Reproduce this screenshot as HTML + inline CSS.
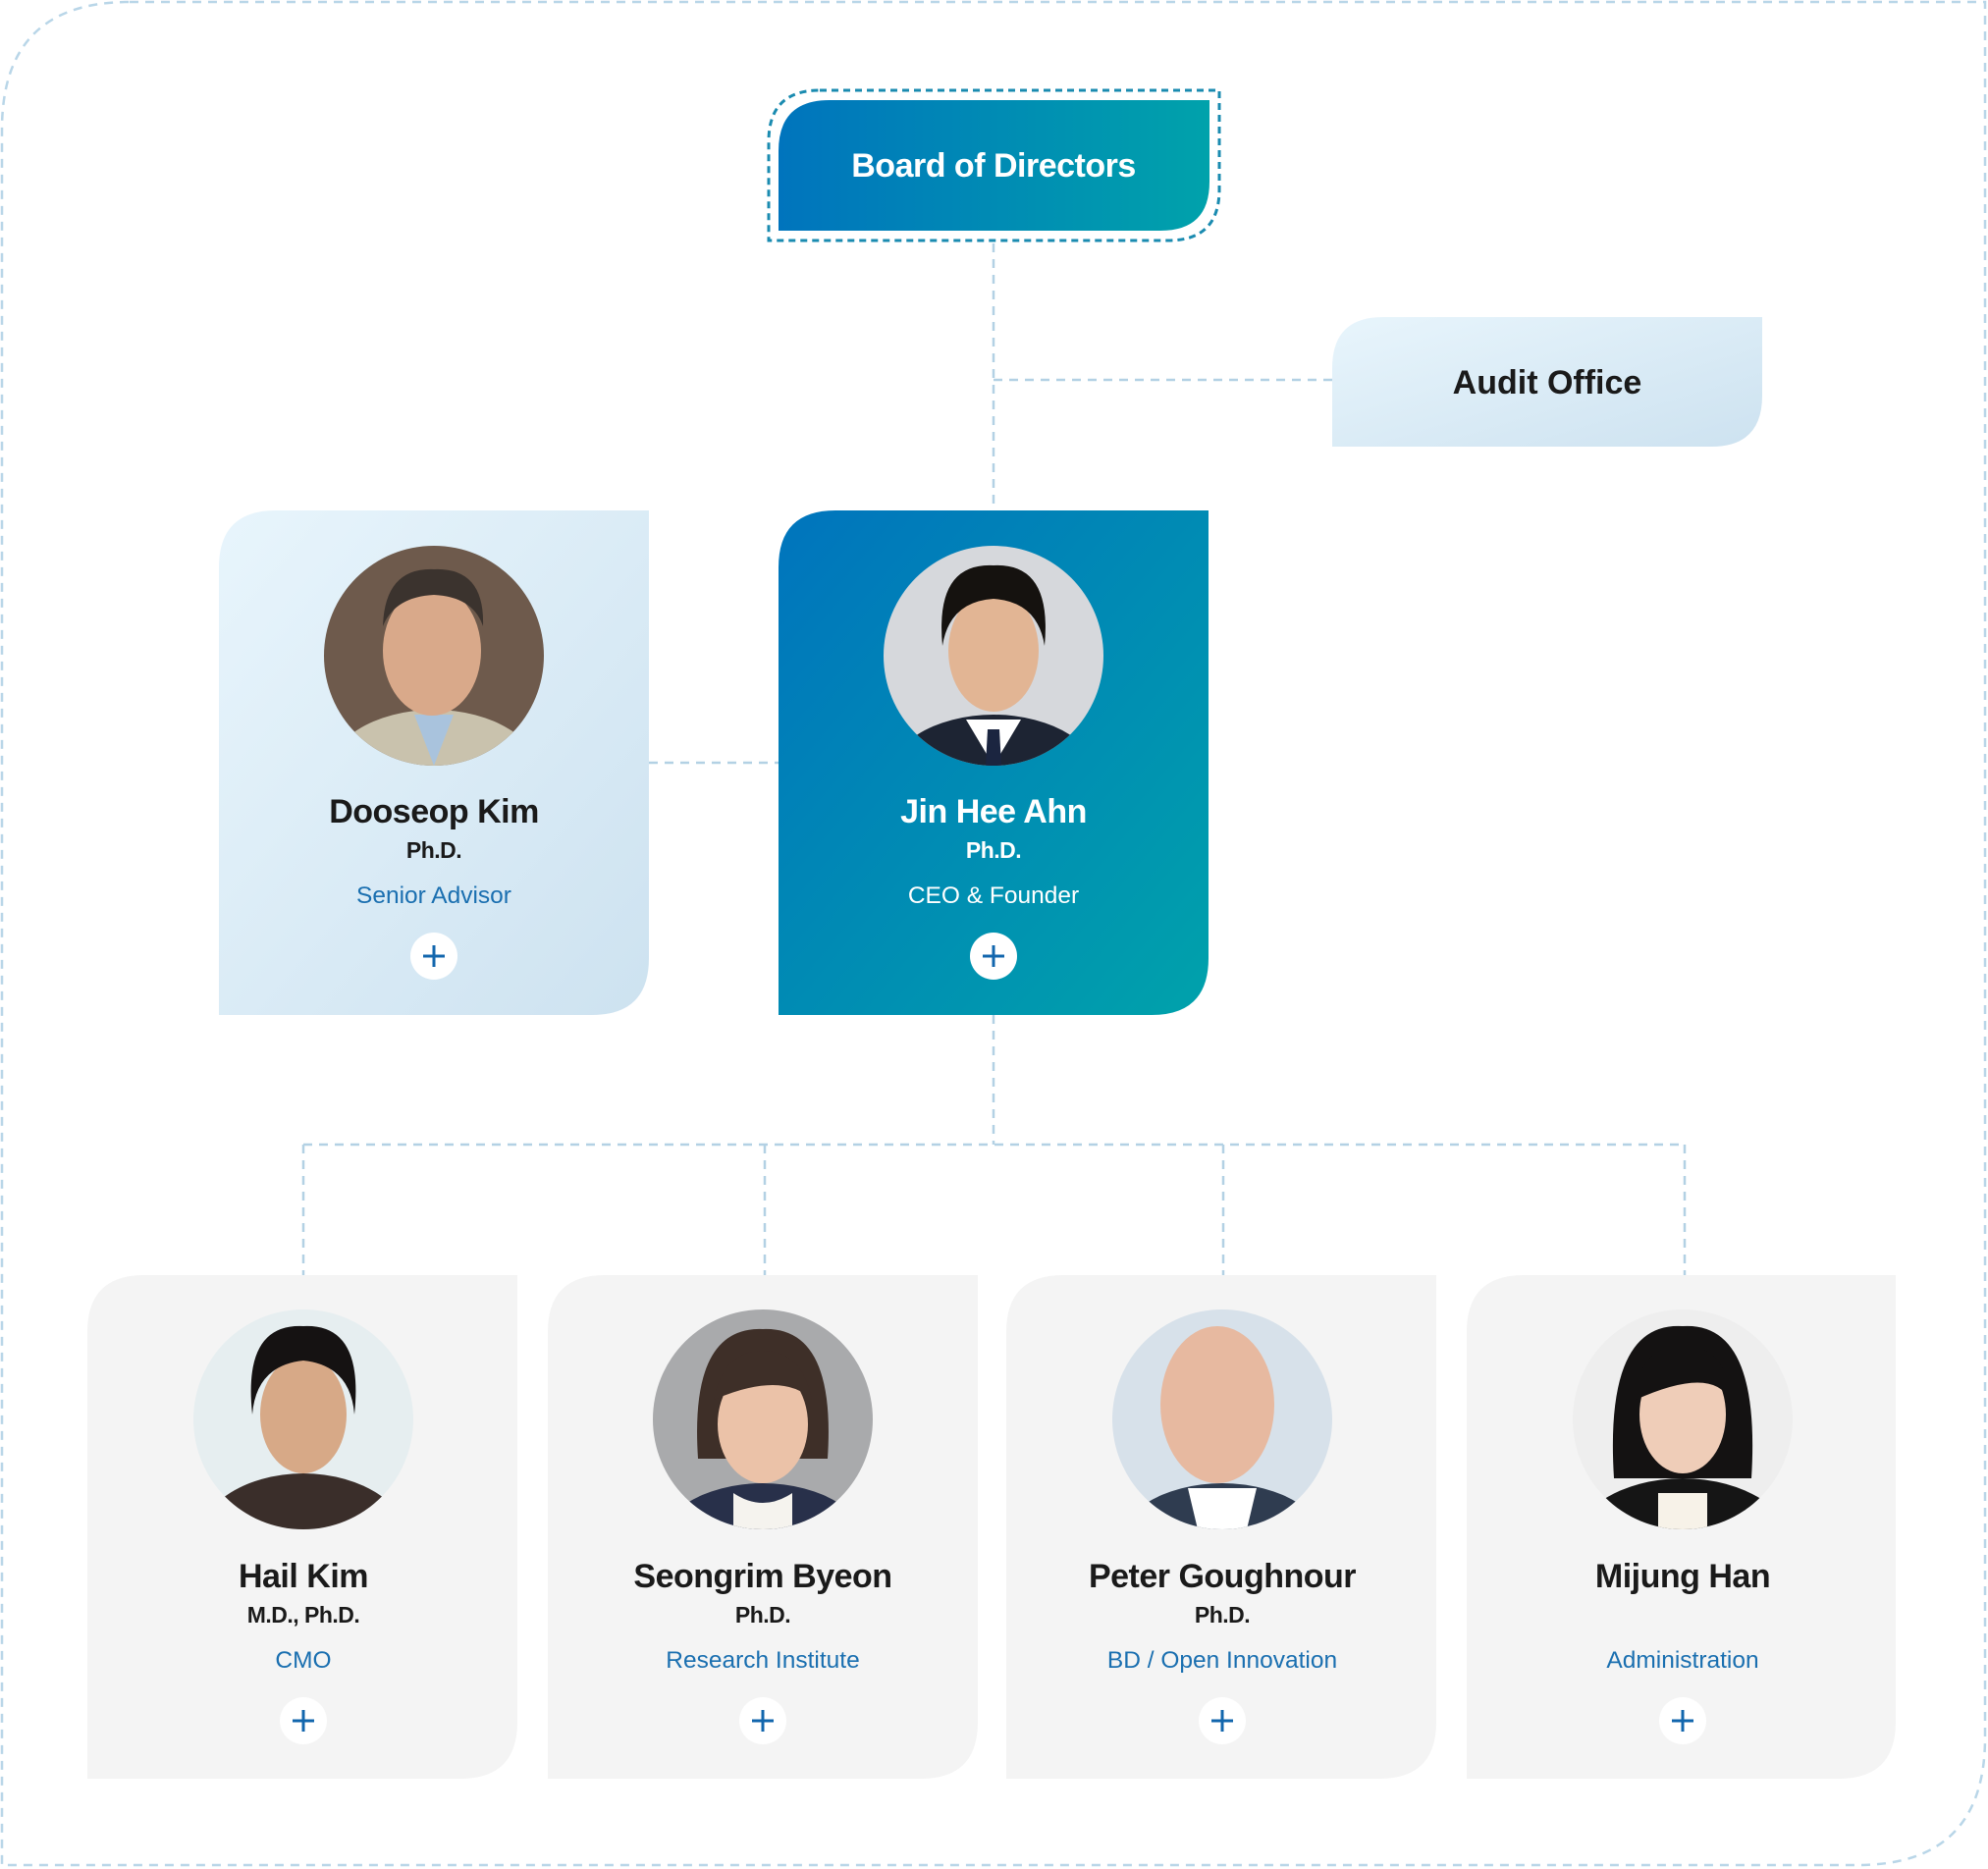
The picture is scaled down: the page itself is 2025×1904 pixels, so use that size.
<!DOCTYPE html>
<html><head><meta charset="utf-8">
<style>
html,body{margin:0;padding:0;background:#fff;}
svg{display:block;}
text{font-family:"Liberation Sans",Arial,sans-serif;}
</style></head>
<body>
<svg width="2025" height="1904" viewBox="0 0 2025 1904" xmlns="http://www.w3.org/2000/svg">
<defs>
<linearGradient id="gBlue" x1="0" y1="0" x2="1" y2="1"><stop offset="0" stop-color="#0074bd"/><stop offset="1" stop-color="#00a2ab"/></linearGradient>
<linearGradient id="gBoard" x1="0" y1="0" x2="1" y2="0"><stop offset="0" stop-color="#0074bd"/><stop offset="1" stop-color="#00a2ab"/></linearGradient>
<linearGradient id="gLight" x1="0" y1="0" x2="1" y2="1"><stop offset="0" stop-color="#e8f5fc"/><stop offset="1" stop-color="#cde2f0"/></linearGradient>
<clipPath id="c"><circle cx="0" cy="0" r="112"/></clipPath>
</defs>

<path d="M132 2 H2022 V1770 Q2022 1900 1892 1900 H2 V132 Q2 2 132 2 Z" fill="none" stroke="#b9d6e8" stroke-width="2.5" stroke-dasharray="9 7"/>

<g stroke="#b3d1e4" stroke-width="2.5" stroke-dasharray="9 7" fill="none">
<line x1="1012" y1="248" x2="1012" y2="520"/>
<line x1="1012" y1="387" x2="1357" y2="387"/>
<line x1="661" y1="777" x2="793" y2="777"/>
<line x1="1012" y1="1034" x2="1012" y2="1166"/>
<line x1="309" y1="1166" x2="1716" y2="1166"/>
<line x1="309" y1="1166" x2="309" y2="1299"/>
<line x1="779" y1="1166" x2="779" y2="1299"/>
<line x1="1246" y1="1166" x2="1246" y2="1299"/>
<line x1="1716" y1="1166" x2="1716" y2="1299"/>
</g>

<path d="M835 92 H1242 V193 Q1242 245 1190 245 H783 V144 Q783 92 835 92 Z" fill="none" stroke="#1a8bb0" stroke-width="3" stroke-dasharray="7 5"/>
<path d="M845 102 H1232 V185 Q1232 235 1182 235 H793 V154 Q793 102 845 102 Z" fill="url(#gBoard)"/>
<text x="1012" y="180" text-anchor="middle" font-size="34" font-weight="bold" fill="#fff" letter-spacing="-0.5">Board of Directors</text>

<path d="M1409 323 H1795 V403 Q1795 455 1743 455 H1357 V375 Q1357 323 1409 323 Z" fill="url(#gLight)"/>
<text x="1576" y="401" text-anchor="middle" font-size="34" font-weight="bold" fill="#1a1a1a" letter-spacing="0">Audit Office</text>

<path d="M281 520 H661 V976 Q661 1034 603 1034 H223 V578 Q223 520 281 520 Z" fill="url(#gLight)"/>
<path d="M851 520 H1231 V976 Q1231 1034 1173 1034 H793 V578 Q793 520 851 520 Z" fill="url(#gBlue)"/>

<g fill="#f4f4f4">
<path d="M147 1299 H527 V1754 Q527 1812 469 1812 H89 V1357 Q89 1299 147 1299 Z"/>
<path d="M616 1299 H996 V1754 Q996 1812 938 1812 H558 V1357 Q558 1299 616 1299 Z"/>
<path d="M1083 1299 H1463 V1754 Q1463 1812 1405 1812 H1025 V1357 Q1025 1299 1083 1299 Z"/>
<path d="M1552 1299 H1931 V1754 Q1931 1812 1873 1812 H1494 V1357 Q1494 1299 1552 1299 Z"/>
</g>

<g transform="translate(442,668)"><g clip-path="url(#c)">
<rect x="-112" y="-112" width="224" height="224" fill="#6e5a4c"/>
<ellipse cx="0" cy="125" rx="110" ry="70" fill="#c9c2ad"/>
<path d="M-20 60 L0 112 L20 60 Z" fill="#a9c3dd"/>
<ellipse cx="-2" cy="-5" rx="50" ry="66" fill="#d9a98a"/>
<path d="M-52 -30 Q-50 -90 0 -88 Q52 -90 50 -30 Q40 -60 0 -62 Q-40 -60 -52 -30 Z" fill="#3b332e"/>
</g></g>
<g transform="translate(1012,668)"><g clip-path="url(#c)">
<rect x="-112" y="-112" width="224" height="224" fill="#d6d8dc"/>
<ellipse cx="0" cy="130" rx="110" ry="70" fill="#1d2433"/>
<path d="M-28 65 L0 112 L28 65 Z" fill="#fff"/>
<path d="M-6 75 L6 75 L8 112 L-8 112 Z" fill="#1b2540"/>
<ellipse cx="0" cy="-5" rx="46" ry="62" fill="#e2b594"/>
<path d="M-52 -10 Q-60 -95 0 -92 Q60 -95 52 -10 Q45 -55 0 -58 Q-45 -55 -52 -10 Z" fill="#15120f"/>
</g></g>
<g transform="translate(309,1446)"><g clip-path="url(#c)">
<rect x="-112" y="-112" width="224" height="224" fill="#e6eef0"/>
<ellipse cx="0" cy="130" rx="110" ry="75" fill="#3a2e2a"/>
<ellipse cx="0" cy="-5" rx="44" ry="60" fill="#d7a987"/>
<path d="M-52 -5 Q-62 -98 0 -95 Q62 -98 52 -5 Q48 -55 0 -60 Q-48 -55 -52 -5 Z" fill="#151212"/>
</g></g>
<g transform="translate(777,1446)"><g clip-path="url(#c)">
<rect x="-112" y="-112" width="224" height="224" fill="#a9aaac"/>
<ellipse cx="0" cy="135" rx="110" ry="70" fill="#28304a"/>
<path d="M-30 75 Q0 95 30 75 L30 112 L-30 112 Z" fill="#f5f3ee"/>
<path d="M-66 40 Q-75 -95 0 -92 Q75 -95 66 40 Z" fill="#3e2f28"/>
<ellipse cx="0" cy="5" rx="46" ry="60" fill="#ebc2a8"/>
<path d="M-50 -20 Q-40 -70 0 -70 Q40 -70 50 -20 Q20 -50 -50 -20 Z" fill="#3e2f28"/>
</g></g>
<g transform="translate(1245,1446)"><g clip-path="url(#c)">
<rect x="-112" y="-112" width="224" height="224" fill="#d7e1ea"/>
<ellipse cx="0" cy="135" rx="110" ry="70" fill="#2f3c50"/>
<path d="M-35 70 L35 70 L25 112 L-25 112 Z" fill="#fff"/>
<ellipse cx="-5" cy="-15" rx="58" ry="80" fill="#e7b9a0"/>
</g></g>
<g transform="translate(1714,1446)"><g clip-path="url(#c)">
<rect x="-112" y="-112" width="224" height="224" fill="#eeeeee"/>
<path d="M-70 60 Q-80 -100 0 -95 Q80 -100 70 60 Z" fill="#141212"/>
<ellipse cx="0" cy="135" rx="115" ry="75" fill="#151515"/>
<path d="M-25 75 L25 75 L25 112 L-25 112 Z" fill="#f7f2e8"/>
<ellipse cx="0" cy="-5" rx="44" ry="60" fill="#efcdb8"/>
<path d="M-48 -20 Q-45 -75 0 -75 Q45 -75 48 -20 Q30 -55 -48 -20 Z" fill="#141212"/>
</g></g>

<g text-anchor="middle">
<text x="442" y="838" font-size="34" font-weight="bold" fill="#1a1a1a" letter-spacing="-0.5">Dooseop Kim</text>
<text x="442" y="874" font-size="23" fill="#1a1a1a" font-weight="bold" letter-spacing="-0.5">Ph.D.</text>
<text x="442" y="920" font-size="24.5" fill="#1a6fb0">Senior Advisor</text>

<text x="1012" y="838" font-size="34" font-weight="bold" fill="#fff" letter-spacing="-0.5">Jin Hee Ahn</text>
<text x="1012" y="874" font-size="23" fill="#fff" font-weight="bold" letter-spacing="-0.5">Ph.D.</text>
<text x="1012" y="920" font-size="24.5" fill="#fff">CEO &amp; Founder</text>

<text x="309" y="1617" font-size="34" font-weight="bold" fill="#1a1a1a" letter-spacing="-0.5">Hail Kim</text>
<text x="309" y="1653" font-size="23" fill="#1a1a1a" font-weight="bold" letter-spacing="-0.5">M.D., Ph.D.</text>
<text x="309" y="1699" font-size="24.5" fill="#1a6fb0">CMO</text>

<text x="777" y="1617" font-size="34" font-weight="bold" fill="#1a1a1a" letter-spacing="-0.5">Seongrim Byeon</text>
<text x="777" y="1653" font-size="23" fill="#1a1a1a" font-weight="bold" letter-spacing="-0.5">Ph.D.</text>
<text x="777" y="1699" font-size="24.5" fill="#1a6fb0">Research Institute</text>

<text x="1245" y="1617" font-size="34" font-weight="bold" fill="#1a1a1a" letter-spacing="-0.5">Peter Goughnour</text>
<text x="1245" y="1653" font-size="23" fill="#1a1a1a" font-weight="bold" letter-spacing="-0.5">Ph.D.</text>
<text x="1245" y="1699" font-size="24.5" fill="#1a6fb0">BD / Open Innovation</text>

<text x="1714" y="1617" font-size="34" font-weight="bold" fill="#1a1a1a" letter-spacing="-0.5">Mijung Han</text>
<text x="1714" y="1699" font-size="24.5" fill="#1a6fb0">Administration</text>
</g>

<g>
<circle cx="442" cy="974" r="24" fill="#fff"/>
<circle cx="1012" cy="974" r="24" fill="#fff"/>
<circle cx="309" cy="1753" r="24" fill="#fff"/>
<circle cx="777" cy="1753" r="24" fill="#fff"/>
<circle cx="1245" cy="1753" r="24" fill="#fff"/>
<circle cx="1714" cy="1753" r="24" fill="#fff"/>
</g>
<g stroke="#1266ad" stroke-width="3">
<path d="M442 963 V985 M431 974 H453"/>
<path d="M1012 963 V985 M1001 974 H1023"/>
<path d="M309 1742 V1764 M298 1753 H320"/>
<path d="M777 1742 V1764 M766 1753 H788"/>
<path d="M1245 1742 V1764 M1234 1753 H1256"/>
<path d="M1714 1742 V1764 M1703 1753 H1725"/>
</g>
</svg>
</body></html>
